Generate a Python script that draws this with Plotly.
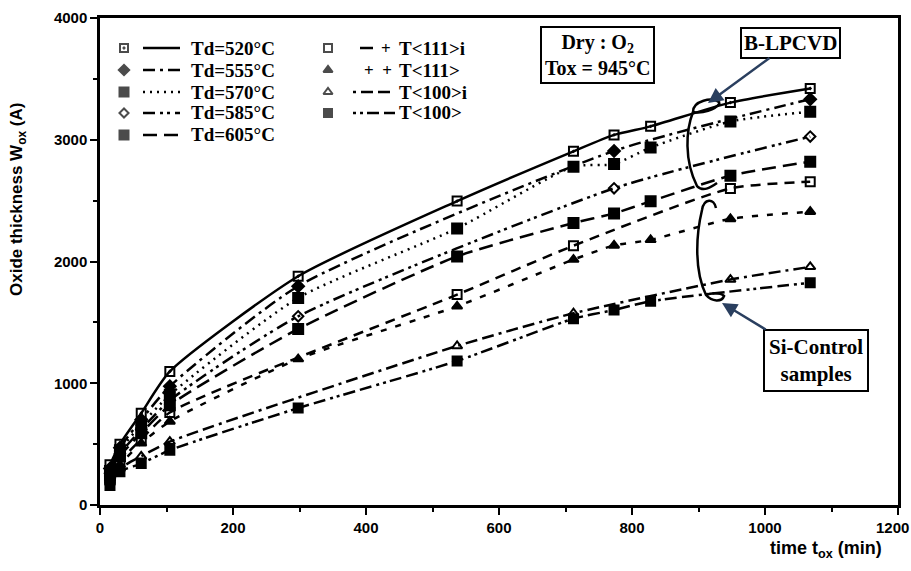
import plotly.graph_objects as go

# ---------------- data ----------------
t_520 = [15, 30, 62, 105, 298, 537, 712, 773, 828, 948, 1068]
w_520 = [330, 500, 754, 1097, 1879, 2496, 2905, 3040, 3110, 3305, 3421]

t_555 = [15, 30, 62, 105, 298, 773, 1068]
w_555 = [300, 470, 700, 975, 1797, 2908, 3333]

t_570 = [15, 30, 62, 105, 298, 537, 712, 773, 828, 948, 1068]
w_570 = [280, 450, 660, 905, 1701, 2272, 2779, 2800, 2936, 3150, 3230]

t_585 = [15, 30, 62, 105, 298, 773, 1068]
w_585 = [260, 420, 620, 860, 1550, 2601, 3026]

t_605 = [15, 30, 62, 105, 298, 537, 712, 773, 828, 948, 1068]
w_605 = [240, 400, 590, 820, 1446, 2042, 2316, 2395, 2494, 2705, 2820]

t_111i = [15, 30, 62, 105, 537, 712, 948, 1068]
w_111i = [220, 360, 540, 760, 1728, 2130, 2600, 2656]

t_111 = [15, 30, 62, 105, 298, 537, 712, 773, 828, 948, 1068]
w_111 = [200, 330, 507, 686, 1199, 1632, 2016, 2132, 2178, 2350, 2409]

t_100i = [15, 30, 62, 105, 537, 712, 948, 1068]
w_100i = [185, 300, 400, 520, 1306, 1575, 1852, 1956]

t_100 = [15, 30, 62, 105, 298, 537, 712, 773, 828, 1068]
w_100 = [160, 274, 340, 450, 796, 1183, 1530, 1602, 1673, 1825]

names = ["Td = 520°C", "Td = 555°C", "Td = 570°C", "Td = 585°C", "Td = 605°C",
         "T<111>i", "T<111>", "T<100>i", "T<100>"]

x_ticks = [0, 200, 400, 600, 800, 1000, 1200]
y_ticks = [0, 1000, 2000, 3000, 4000]

# ---------------- styles ----------------
styles = [
    dict(t=t_520, w=w_520, sym="square-open-dot", dash="solid", size=9),
    dict(t=t_555, w=w_555, sym="diamond", dash="12px,5px,3px,5px", size=9),
    dict(t=t_570, w=w_570, sym="square", dash="2px,5px", size=10),
    dict(t=t_585, w=w_585, sym="diamond-open", dash="12px,5px,3px,4px,3px,5px", size=8),
    dict(t=t_605, w=w_605, sym="square", dash="14px,7px", size=10),
    dict(t=t_111i, w=w_111i, sym="square-open", dash="10px,7px", size=9),
    dict(t=t_111, w=w_111, sym="triangle-up", dash="6px,9px", size=9),
    dict(t=t_100i, w=w_100i, sym="triangle-up-open", dash="3px,5px,12px,5px,12px,5px", size=9),
    dict(t=t_100, w=w_100, sym="square", dash="3px,4px,3px,4px,12px,5px,12px,5px", size=9),
]

fig = go.Figure()
for nm, s in zip(names, styles):
    fig.add_trace(go.Scatter(
        x=s["t"], y=s["w"], name=nm, mode="lines+markers",
        line=dict(color="black", width=2.5, dash=s["dash"], shape="spline", smoothing=0.6),
        marker=dict(symbol=s["sym"], size=s["size"], color="black",
                    line=dict(color="black", width=2)),
        showlegend=False))

# ---------------- pixel -> paper helpers ----------------
X0, X1, Y0, Y1 = 100, 898, 505, 18
def px(x):
    return (x - X0) / (X1 - X0)
def py(y):
    return (Y0 - y) / (Y0 - Y1)

def txt(x, y, text, size=19, family="Liberation Serif", xanchor="left", **kw):
    d = dict(x=px(x), y=py(y), xref="paper", yref="paper", text=text, showarrow=False,
             xanchor=xanchor, yanchor="middle",
             font=dict(family=family, size=size, color="black", weight="bold"))
    d.update(kw)
    return d

# ---------------- hand-built legend ----------------
col1_rows = [48, 70, 92, 113, 135]
col2_rows = [48, 70, 92, 113]
shapes = []
annots = []
leg_x, leg_y, leg_sym, leg_size = [], [], [], []
for i in range(5):
    yy = col1_rows[i]
    leg_x.append(px(124)); leg_y.append(py(yy))
    leg_sym.append(styles[i]["sym"]); leg_size.append(styles[i]["size"] - 1)
    shapes.append(dict(type="line", xref="paper", yref="paper",
                       x0=px(143), x1=px(180), y0=py(yy), y1=py(yy),
                       line=dict(color="black", width=2.5, dash=styles[i]["dash"])))
    annots.append(txt(189, yy, names[i].replace(" = ", "=")))
for j in range(4):
    i = 5 + j
    yy = col2_rows[j]
    leg_x.append(px(328)); leg_y.append(py(yy))
    leg_sym.append(styles[i]["sym"]); leg_size.append(styles[i]["size"] - 1)
    if j == 0:
        shapes.append(dict(type="line", xref="paper", yref="paper",
                           x0=px(360), x1=px(373), y0=py(yy), y1=py(yy),
                           line=dict(color="black", width=2.5)))
        annots.append(txt(386, yy, "+", size=17, xanchor="center"))
    elif j == 1:
        annots.append(txt(378, yy, "+  +", size=17, xanchor="center"))
    else:
        shapes.append(dict(type="line", xref="paper", yref="paper",
                           x0=px(353), x1=px(395), y0=py(yy), y1=py(yy),
                           line=dict(color="black", width=2.5, dash=styles[i]["dash"])))
    annots.append(txt(397, yy, names[i].replace("<", "&lt;").replace(">", "&gt;")))

fig.add_trace(go.Scatter(x=leg_x, y=leg_y, mode="markers", xaxis="x2", yaxis="y2",
                         marker=dict(symbol=leg_sym, size=leg_size, color="black",
                                     line=dict(color="black", width=2)),
                         showlegend=False, hoverinfo="skip"))

# ---------------- boxes / arrows ----------------
annots.append(txt(597, 55, "Dry : O<sub>2</sub><br>Tox = 945°C", size=20, xanchor="center",
                  bordercolor="black", borderwidth=2, borderpad=3, bgcolor="white"))
annots.append(dict(x=px(708), y=py(103), xref="paper", yref="paper",
                   ax=82, ay=-60, showarrow=True, arrowhead=2, arrowsize=1.2, arrowwidth=2.5,
                   text="B-LPCVD", bordercolor="black", borderwidth=2, borderpad=2, bgcolor="white",
                   font=dict(family="Liberation Serif", size=21, color="black", weight="bold")))
annots.append(dict(x=px(722), y=py(303), xref="paper", yref="paper",
                   ax=94, ay=57, showarrow=True, arrowhead=2, arrowsize=1.2, arrowwidth=2.5,
                   text="Si-Control<br>samples", bordercolor="black", borderwidth=2, borderpad=4,
                   bgcolor="white",
                   font=dict(family="Liberation Serif", size=21, color="black", weight="bold")))

def path(points):
    s = ""
    for cmd, pts in points:
        s += cmd + " " + " ".join(f"{px(a):.4f},{py(b):.4f}" for a, b in pts) + " "
    return s.strip()

# B-LPCVD bracket
shapes.append(dict(type="path", xref="paper", yref="paper", line=dict(color="black", width=2.5),
                   path=path([("M", [(720, 103)]), ("C", [(712, 96), (693, 101), (693, 112)]),
                              ("C", [(686, 130), (684, 160), (697, 186)]),
                              ("C", [(703, 192), (710, 188), (717, 183)])])))
shapes.append(dict(type="path", xref="paper", yref="paper", line=dict(color="black", width=2.5),
                   path=path([("M", [(693, 112)]), ("C", [(702, 114), (715, 110), (720, 103)])])))
# Si-Control bracket
shapes.append(dict(type="path", xref="paper", yref="paper", line=dict(color="black", width=2.5),
                   path=path([("M", [(716, 208)]), ("C", [(714, 198), (704, 198), (702, 210)]),
                              ("C", [(696, 235), (694, 270), (706, 295)]),
                              ("C", [(712, 302), (722, 302), (724, 296)]),
                              ("C", [(720, 292), (710, 293), (706, 295)])])))

axis_font = dict(family="Liberation Sans", size=15, color="black", weight="bold")
# the last x tick label sits at the very right edge of the page: draw it right-aligned
x_ticktext = [str(v) for v in x_ticks[:-1]] + [""]
last_label = dict(x=1.0, y=0, xref="paper", yref="paper", xshift=13, yshift=-12,
                  text=str(x_ticks[-1]), showarrow=False, xanchor="right", yanchor="top",
                  font=axis_font)

fig.update_layout(
    width=911, height=571,
    margin=dict(l=X0, r=911 - X1, t=Y1, b=571 - Y0),
    paper_bgcolor="white", plot_bgcolor="white",
    shapes=shapes, annotations=annots + [
        txt(18, 200, "Oxide thickness W<sub>ox</sub> (A)", size=17, family="Liberation Sans",
            xanchor="center", textangle=-90),
        txt(826, 549, "time t<sub>ox</sub> (min)", size=18, family="Liberation Sans",
            xanchor="center"),
        last_label,
    ],
    xaxis=dict(range=[0, 1200], tickvals=x_ticks, ticktext=x_ticktext,
               ticks="outside", ticklen=7, tickwidth=2, tickcolor="black",
               automargin=False,
               minor=dict(dtick=100, ticks="outside", ticklen=4, tickwidth=1.5, tickcolor="black"),
               showline=True, linecolor="black", linewidth=2.5, mirror=True,
               showgrid=False, zeroline=False, tickfont=axis_font),
    yaxis=dict(range=[0, 4000], tickvals=y_ticks, ticktext=[str(v) for v in y_ticks],
               ticks="outside", ticklen=7, tickwidth=2, tickcolor="black",
               ticklabeloverflow="allow", automargin=False,
               minor=dict(dtick=500, ticks="outside", ticklen=4, tickwidth=1.5, tickcolor="black"),
               showline=True, linecolor="black", linewidth=2.5, mirror=True,
               showgrid=False, zeroline=False, tickfont=axis_font),
    xaxis2=dict(range=[0, 1], overlaying="x", visible=False),
    yaxis2=dict(range=[0, 1], overlaying="y", visible=False),
)

fig.write_html("out.html")
